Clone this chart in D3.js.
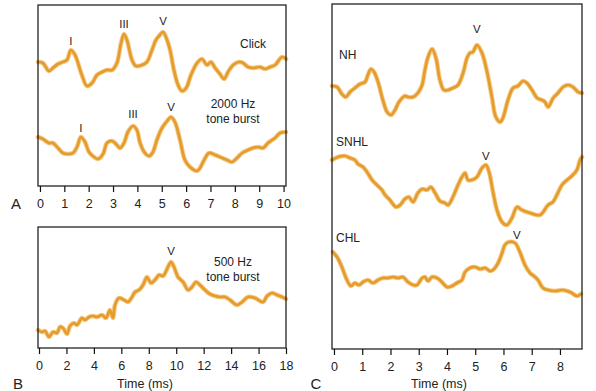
<!DOCTYPE html>
<html><head><meta charset="utf-8">
<script src="https://cdn.jsdelivr.net/npm/d3@7"></script>
<style>
body{margin:0;background:#fff}
svg{display:block}
text{font-family:"Liberation Sans",Arial,Helvetica,sans-serif;fill:#222}
</style>
</head><body>
<svg id="chart" width="596" height="391"></svg>
<script>
// ---------- DATA (time in ms, amplitude in arbitrary units, positive up) ----------
const ticksA = [0,1,2,3,4,5,6,7,8,9,10];
const ticksB = [0,2,4,6,8,10,12,14,16,18];
const ticksC = [0,1,2,3,4,5,6,7,8];

const clickTime = [-0.08,0.12,0.37,0.53,0.74,0.94,1.11,1.27,1.44,1.72,1.93,2.14,2.34,2.55,2.75,2.96,3.16,3.33,3.45,3.57,3.78,3.94,4.19,4.39,4.60,4.76,4.89,5.05,5.17,5.34,5.50,5.67,5.83,6.00,6.20,6.45,6.65,6.86,7.02,7.19,7.39,7.56,7.72,7.93,8.17,8.34,8.54,8.75,9.03,9.24,9.45,9.65,9.94,10.10];
const clickAmp  = [0,-1,-9,-6,-2,0,2,12,7,-13,-24,-21,-13,-10,-8,-8,-1,19,28,22,2,-4,-3,0,12,22,26,30,25,12,-8,-23,-29,-26,-13,-1,3,-3,0,-6,-12,-17,-10,-3,0,-1,-5,-6,-5,-7,-5,-3,5,3];

const tb2000Time = [-0.08,0.12,0.37,0.53,0.74,0.94,1.15,1.36,1.52,1.68,1.85,2.01,2.22,2.38,2.59,2.75,2.96,3.12,3.29,3.45,3.61,3.82,3.98,4.11,4.31,4.48,4.64,4.80,5.01,5.22,5.38,5.54,5.75,5.95,6.16,6.45,6.57,6.74,6.94,7.19,7.39,7.68,7.89,8.09,8.30,8.54,8.75,8.95,9.16,9.36,9.65,9.86,10.10];
const tb2000Amp  = [1,-1,-5,-5,-10,-15,-16,-15,-9,1,-4,-14,-19,-21,-16,-5,-3,-6,-10,-5,6,12,8,-5,-15,-18,-14,-2,10,17,21,16,-2,-22,-29,-33,-30,-22,-15,-17,-19,-22,-24,-20,-15,-12,-10,-9,-10,-5,0,5,6];

const tb500Time = [-0.07,0.22,0.44,0.73,1.02,1.31,1.53,1.75,2.04,2.26,2.55,2.77,3.13,3.35,3.64,3.94,4.23,4.59,4.88,5.17,5.39,5.54,5.83,6.20,6.49,6.78,7.00,7.29,7.58,7.87,8.16,8.45,8.75,9.04,9.33,9.62,9.84,10.13,10.50,10.86,11.15,11.44,11.73,12.10,12.46,12.83,13.19,13.56,13.92,14.43,14.80,15.23,15.74,16.33,16.62,16.98,17.35,17.71,18.00];
const tb500Amp  = [0,-2,-1,-7,-2,-3,3,2,-4,4,7,5,12,10,13,14,13,15,12,20,12,25,32,30,28,33,38,40,45,53,47,50,55,54,61,68,63,53,48,40,43,48,45,40,36,34,33,33,30,25,28,33,32,28,34,37,35,33,31];

const nhTime = [-0.07,0.11,0.28,0.42,0.57,0.74,0.92,1.10,1.20,1.31,1.42,1.56,1.73,1.88,2.02,2.16,2.30,2.51,2.62,2.80,2.97,3.12,3.22,3.33,3.47,3.61,3.75,3.89,4.04,4.21,4.39,4.57,4.71,4.81,4.92,5.06,5.24,5.42,5.59,5.73,5.88,5.98,6.16,6.34,6.51,6.69,6.83,7.01,7.19,7.36,7.47,7.58,7.76,7.93,8.11,8.29,8.46,8.64,8.78];
const nhAmp  = [0,-1,-8,-11,-6,-2,2,4,11,17,14,4,-14,-26,-29,-24,-16,-10,-11,-11,-7,1,16,29,37,28,6,-4,-4,-2,1,13,28,33,34,41,33,14,-11,-31,-36,-32,-14,-2,0,5,3,-4,-12,-14,-16,-21,-12,-7,-1,1,-1,-6,-7];

const snhlTime = [-0.07,0.14,0.39,0.57,0.74,0.85,1.03,1.17,1.35,1.52,1.70,1.81,1.98,2.19,2.34,2.51,2.65,2.80,2.97,3.12,3.29,3.43,3.58,3.75,3.93,4.04,4.21,4.39,4.53,4.64,4.74,4.88,5.06,5.24,5.38,5.49,5.63,5.77,5.95,6.12,6.30,6.48,6.65,6.94,7.29,7.58,7.75,7.89,8.07,8.25,8.42,8.60,8.71,8.78];
const snhlAmp  = [0,3,4,2,0,-4,-7,-12,-20,-25,-30,-35,-40,-47,-45,-39,-37,-42,-33,-29,-30,-27,-33,-41,-43,-45,-37,-25,-17,-13,-20,-20,-17,-8,-5,-12,-32,-50,-62,-65,-58,-47,-50,-53,-55,-45,-42,-35,-25,-20,-16,-10,0,3];

const chlTime = [-0.04,0.11,0.28,0.46,0.60,0.74,0.88,1.03,1.20,1.38,1.56,1.73,1.91,2.09,2.27,2.44,2.62,2.80,2.94,3.12,3.22,3.33,3.47,3.65,3.82,4.00,4.18,4.35,4.53,4.64,4.81,4.99,5.17,5.35,5.52,5.63,5.81,5.95,6.05,6.19,6.41,6.58,6.76,6.94,7.12,7.22,7.40,7.58,7.83,8.07,8.25,8.42,8.60,8.74];
const chlAmp  = [0,-5,-15,-28,-34,-31,-33,-30,-28,-31,-28,-26,-26,-25,-26,-25,-30,-33,-33,-26,-25,-29,-25,-26,-30,-35,-34,-31,-28,-20,-16,-15,-17,-16,-19,-18,-11,-1,7,10,9,0,-13,-21,-25,-28,-36,-38,-39,-38,-39,-41,-44,-42];

// trace labels and peak labels
const clickPeakNames = ["I","III","V"], clickPeakTimes = [1.27,3.45,5.05];
const tb2000PeakNames = ["I","III","V"], tb2000PeakTimes = [1.68,3.82,5.38];
const tb500PeakNames = ["V"], tb500PeakTimes = [9.62];
const nhPeakNames = ["V"], nhPeakTimes = [5.06];
const snhlPeakNames = ["V"], snhlPeakTimes = [5.38];
const chlPeakNames = ["V"], chlPeakTimes = [6.19];

// ---------- LAYOUT ----------
const svg = d3.select("#chart");
const COLOR = "#E59C2C", GLOW = "#F3CB88";
const FS = 12, TICKFS = 12.5;

const panels = [
  {box:{l:38,r:286,t:5,b:186}, xd:[-0.08,10.1], xr:[38,286], yd:[-124,57], ticks:ticksA,
   letter:{t:"A",x:16,y:209}, xlabel:null,
   traces:[
     {time:clickTime, amp:clickAmp, off:0, peaks:clickPeakNames, pt:clickPeakTimes, pdy:[-5,-6,-7]},
     {time:tb2000Time, amp:tb2000Amp, off:-76, peaks:tb2000PeakNames, pt:tb2000PeakTimes, pdy:[-5,-8,-6]}
   ],
   notes:[{lines:["Click"],x:253,y:48},{lines:["2000 Hz","tone burst"],x:233,y:108}]},
  {box:{l:38,r:286,t:227,b:348}, xd:[0,18], xr:[39,286], yd:[-18,103], ticks:ticksB,
   letter:{t:"B",x:18,y:389}, xlabel:{t:"Time (ms)",x:145,y:388},
   traces:[
     {time:tb500Time, amp:tb500Amp, off:0, peaks:tb500PeakNames, pt:tb500PeakTimes, pdy:[-7]}
   ],
   notes:[{lines:["500 Hz","tone burst"],x:233,y:266}]},
  {box:{l:332,r:582,t:4,b:349}, xd:[-0.07,8.78], xr:[332,582], yd:[-263,82], ticks:ticksC,
   letter:{t:"C",x:316,y:389}, xlabel:{t:"Time (ms)",x:439,y:388},
   traces:[
     {time:nhTime, amp:nhAmp, off:0, peaks:nhPeakNames, pt:nhPeakTimes, pdy:[-12], name:"NH", nx:339, ny:59},
     {time:snhlTime, amp:snhlAmp, off:-74, peaks:snhlPeakNames, pt:snhlPeakTimes, pdy:[-5], name:"SNHL", nx:336, ny:146},
     {time:chlTime, amp:chlAmp, off:-166, peaks:chlPeakNames, pt:chlPeakTimes, pdy:[-3], pdx:[8], name:"CHL", nx:336, ny:242}
   ],
   notes:[]}
];

panels.forEach(p => {
  const x = d3.scaleLinear().domain(p.xd).range(p.xr);
  const y = d3.scaleLinear().domain(p.yd).range([p.box.b, p.box.t]);
  const g = svg.append("g");

  // traces
  p.traces.forEach(tr => {
    const pts = tr.time.map((t,i) => [t, tr.amp[i] + tr.off]);
    const line = d3.line().x(d => x(d[0])).y(d => y(d[1])).curve(d3.curveCatmullRom.alpha(0.5));
    g.append("path").datum(pts).attr("d", line).attr("fill","none")
      .attr("stroke", GLOW).attr("stroke-width", 4.6).attr("stroke-linejoin","round").attr("stroke-linecap","round");
    g.append("path").datum(pts).attr("d", line).attr("fill","none")
      .attr("stroke", COLOR).attr("stroke-width", 2.7).attr("stroke-linejoin","round").attr("stroke-linecap","round");

    tr.peaks.forEach((name,k) => {
      const t = tr.pt[k];
      const idx = d3.minIndex(tr.time, v => Math.abs(v - t));
      const vy = y(tr.amp[idx] + tr.off);
      g.append("text").attr("x", x(t) + ((tr.pdx && tr.pdx[k]) || 0)).attr("y", vy + tr.pdy[k])
        .attr("text-anchor","middle").attr("font-size", 11.5).text(name);
    });
    if (tr.name) {
      g.append("text").attr("x", tr.nx).attr("y", tr.ny).attr("font-size", FS).text(tr.name);
    }
  });

  // notes
  p.notes.forEach(n => {
    n.lines.forEach((ln,i) => {
      g.append("text").attr("x", n.x).attr("y", n.y + i*15).attr("text-anchor","middle")
        .attr("font-size", FS).text(ln);
    });
  });

  // frame
  g.append("rect").attr("x", p.box.l).attr("y", p.box.t)
    .attr("width", p.box.r - p.box.l).attr("height", p.box.b - p.box.t)
    .attr("fill","none").attr("stroke","#111").attr("stroke-width",1.2);

  // axis
  const ax = g.append("g").attr("transform", `translate(0,${p.box.b})`)
    .call(d3.axisBottom(x).tickValues(p.ticks).tickSize(6).tickPadding(7).tickFormat(d3.format("d")));
  ax.select(".domain").remove();
  ax.selectAll("line").attr("stroke","#111").attr("stroke-width",1.2);
  ax.selectAll("text").attr("font-size", TICKFS).attr("fill","#222")
    .style("font-family",'"Liberation Sans",Arial,sans-serif');

  g.append("text").attr("x", p.letter.x).attr("y", p.letter.y).attr("text-anchor","middle")
    .attr("font-size", 15).text(p.letter.t);
  if (p.xlabel) {
    g.append("text").attr("x", p.xlabel.x).attr("y", p.xlabel.y).attr("text-anchor","middle")
      .attr("font-size", TICKFS).text(p.xlabel.t);
  }
});
</script>
</body></html>
